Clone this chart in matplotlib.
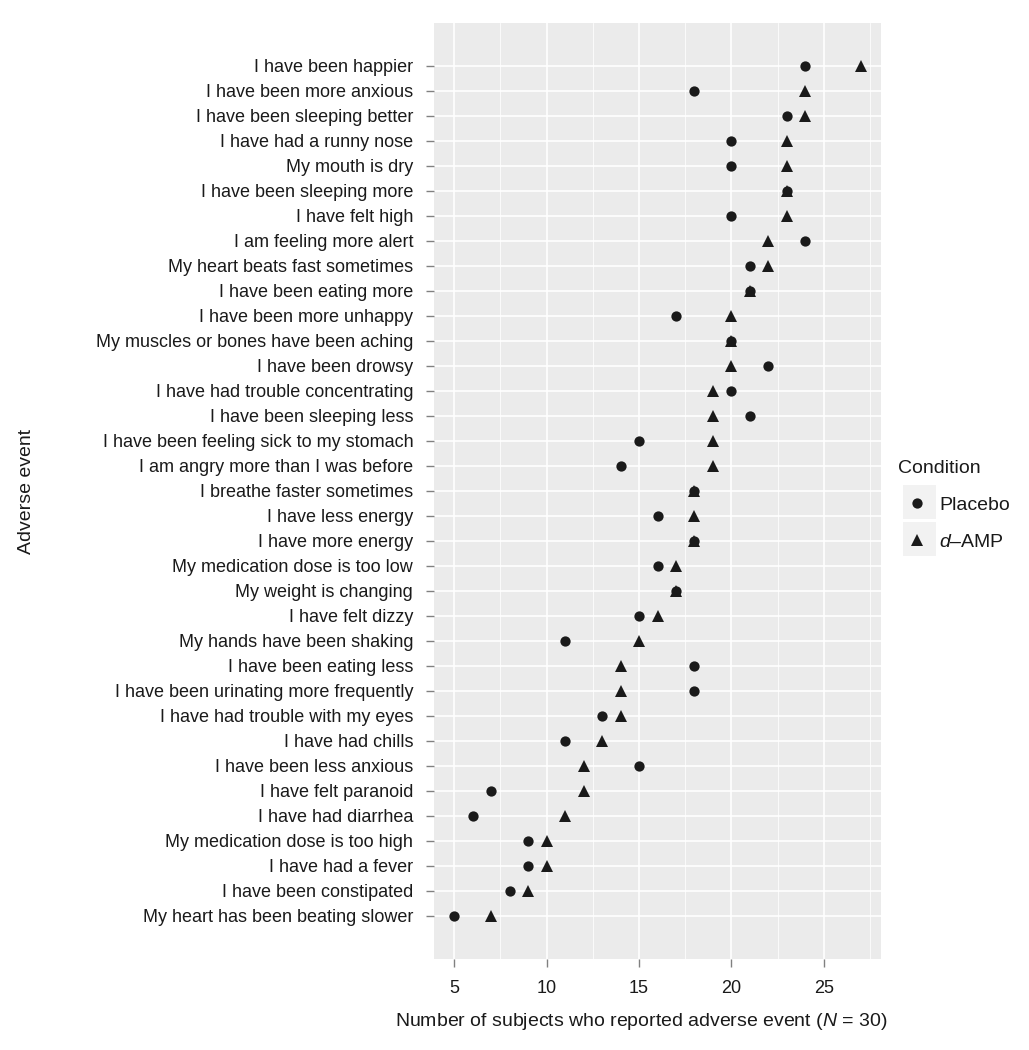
import matplotlib
matplotlib.use("Agg")
import matplotlib.pyplot as plt
from matplotlib.lines import Line2D
from matplotlib.patches import Rectangle

plt.rcParams['font.family'] = ['Liberation Sans', 'DejaVu Sans']
plt.rcParams['mathtext.fontset'] = 'custom'
plt.rcParams['mathtext.rm'] = 'Liberation Sans'
plt.rcParams['mathtext.it'] = 'Liberation Sans:italic'

# Data (top to bottom as displayed)
events = [
    "I have been happier",
    "I have been more anxious",
    "I have been sleeping better",
    "I have had a runny nose",
    "My mouth is dry",
    "I have been sleeping more",
    "I have felt high",
    "I am feeling more alert",
    "My heart beats fast sometimes",
    "I have been eating more",
    "I have been more unhappy",
    "My muscles or bones have been aching",
    "I have been drowsy",
    "I have had trouble concentrating",
    "I have been sleeping less",
    "I have been feeling sick to my stomach",
    "I am angry more than I was before",
    "I breathe faster sometimes",
    "I have less energy",
    "I have more energy",
    "My medication dose is too low",
    "My weight is changing",
    "I have felt dizzy",
    "My hands have been shaking",
    "I have been eating less",
    "I have been urinating more frequently",
    "I have had trouble with my eyes",
    "I have had chills",
    "I have been less anxious",
    "I have felt paranoid",
    "I have had diarrhea",
    "My medication dose is too high",
    "I have had a fever",
    "I have been constipated",
    "My heart has been beating slower",
]
placebo = [24, 18, 23, 20, 20, 23, 20, 24, 21, 21, 17, 20, 22, 20, 21, 15, 14,
           18, 16, 18, 16, 17, 15, 11, 18, 18, 13, 11, 15, 7, 6, 9, 9, 8, 5]
damp = [27, 24, 24, 23, 23, 23, 23, 22, 22, 21, 20, 20, 20, 19, 19, 19, 19,
        18, 18, 18, 17, 17, 16, 15, 14, 14, 14, 13, 12, 12, 11, 10, 10, 9, 7]
x_ticks = [5, 10, 15, 20, 25]
x_minor = [7.5, 12.5, 17.5, 22.5, 27.5]
conditions = ["Placebo", "$d$\u2013AMP"]

n = len(events)
ypos = list(range(n, 0, -1))

W, H = 1029, 1050
fig = plt.figure(figsize=(W / 100, H / 100), dpi=100)
ax = fig.add_axes([434 / W, 1 - 959 / H, 447 / W, (959 - 23) / H])

ax.set_facecolor('#EBEBEB')
for s in ax.spines.values():
    s.set_visible(False)

ax.set_xlim(3.9, 28.1)
ax.set_ylim(-0.72, n + 1.71)
ax.set_xticks(x_ticks)
ax.set_xticks(x_minor, minor=True)
ax.set_yticks(ypos)
ax.set_yticklabels(events)
ax.set_axisbelow(True)
ax.grid(which='major', color='white', linewidth=1.2)
ax.grid(which='minor', axis='x', color='white', linewidth=0.55)
ax.tick_params(axis='both', which='major', length=6, width=1.0, color='#808080',
               labelsize=13, labelcolor='#1a1a1a')
ax.tick_params(axis='y', pad=9)
ax.tick_params(axis='x', pad=9)
ax.tick_params(which='minor', length=0)

mk = '#1a1a1a'
ax.plot(placebo, ypos, linestyle='none', marker='o', markersize=7.4,
        color=mk, markeredgewidth=0, zorder=3)
ax.plot(damp, ypos, linestyle='none', marker='^', markersize=9.0,
        color=mk, markeredgewidth=0, zorder=3)

ax.set_xlabel("Number of subjects who reported adverse event ($N$ = 30)",
              fontsize=14, color='#1a1a1a')
ax.xaxis.set_label_coords(641 / W, 1 - 1011 / H, transform=fig.transFigure)
ax.set_ylabel("Adverse event", fontsize=14, color='#1a1a1a')
ax.yaxis.set_label_coords(35 / W, 1 - 491 / H, transform=fig.transFigure)

# legend key backgrounds
for (y0, y1) in [(485, 519), (522, 556)]:
    fig.patches.append(Rectangle((903 / W, 1 - y1 / H), 33 / W, (y1 - y0) / H,
                                 transform=fig.transFigure, facecolor='#F2F2F2',
                                 edgecolor='none', zorder=0))

handles = [
    Line2D([], [], linestyle='none', marker='o', markersize=7.4, color=mk, markeredgewidth=0),
    Line2D([], [], linestyle='none', marker='^', markersize=9.0, color=mk, markeredgewidth=0),
]
leg = fig.legend(handles, conditions, title="Condition", loc='upper left',
                 bbox_to_anchor=(898 / W, 1 - 460 / H), frameon=False,
                 fontsize=14, title_fontsize=14, alignment='left',
                 borderpad=0, borderaxespad=0, handlelength=2.0,
                 handletextpad=0.12, labelspacing=1.0)
for t in leg.get_texts():
    t.set_color('#1a1a1a')
leg.get_title().set_color('#1a1a1a')

fig.savefig("out.png", dpi=100)
